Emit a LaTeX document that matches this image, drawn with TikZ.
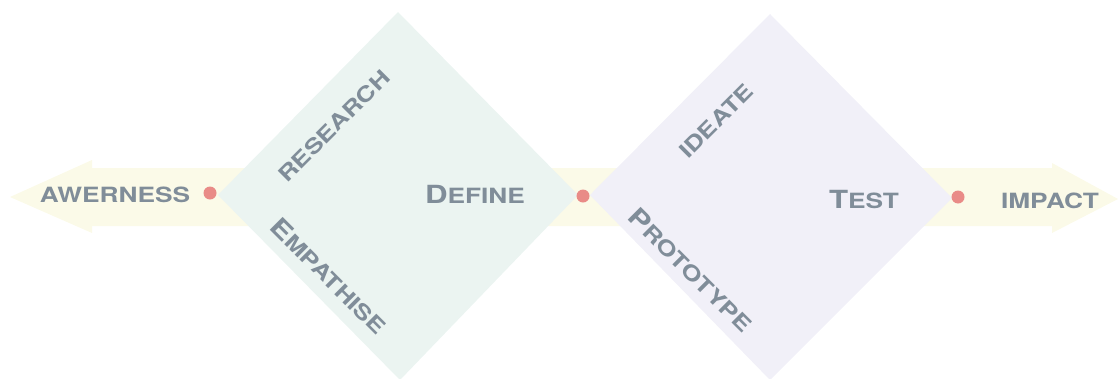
\documentclass[tikz,border=0pt]{standalone}
\usepackage{fontspec}
\newfontfamily\stagefont[FakeStretch=1.25]{TeX Gyre Heros}

\definecolor{band}{HTML}{FBFAE8}
\definecolor{mint}{HTML}{EBF4F1}
\definecolor{lilac}{HTML}{F1F0F8}
\definecolor{slate}{HTML}{808D99}
\definecolor{salmon}{HTML}{E98B87}

% first letter a bit taller than the rest
\newcommand{\bigfirst}[2]{{\fontsize{25}{25}\selectfont #1}{\fontsize{21}{21}\selectfont #2}}

\tikzset{
    stage/.style={text=slate, font=\stagefont\bfseries\fontsize{21}{21}\selectfont, inner sep=0pt},
    dot/.style={circle, fill=salmon, inner sep=0pt, minimum size=13pt}
}

\begin{document}
\begin{tikzpicture}[x=1pt, y=-1pt]
    \useasboundingbox (0,0) rectangle (1118,378);

    % Double arrow behind everything
    \fill[band] (10,197) -- (92,160) -- (92,168) -- (1052,168) -- (1052,163)
        -- (1118,199) -- (1052,233) -- (1052,226) -- (92,226) -- (92,233) -- cycle;

    % Diamonds
    \fill[mint] (398,12) -- (578,195) -- (400,380) -- (218,195) -- cycle;
    \fill[lilac] (770,14) -- (952,198) -- (770,380) -- (590,195) -- cycle;

    % Stage labels
    \node[stage] (awareness) at (115,195) {AWERNESS};
    \node[stage, rotate=45] (research) at (334,126) {RESEARCH};
    \node[stage, rotate=-45] (empathise) at (329,276) {\bigfirst{E}{MPATHISE}};
    \node[stage] (define) at (475,194) {\bigfirst{D}{EFINE}};
    \node[stage, rotate=45] (ideate) at (716,121) {IDEATE};
    \node[stage, rotate=-45] (prototype) at (691,270) {\bigfirst{P}{ROTOTYPE}};
    \node[stage] (test) at (864,200) {\bigfirst{T}{EST}};
    \node[stage] (impact) at (1050,201) {IMPACT};

    % Milestones
    \node[dot] (start) at (210,193) {};
    \node[dot] (mid) at (583,196) {};
    \node[dot] (finish) at (958,197) {};
\end{tikzpicture}
\end{document}
